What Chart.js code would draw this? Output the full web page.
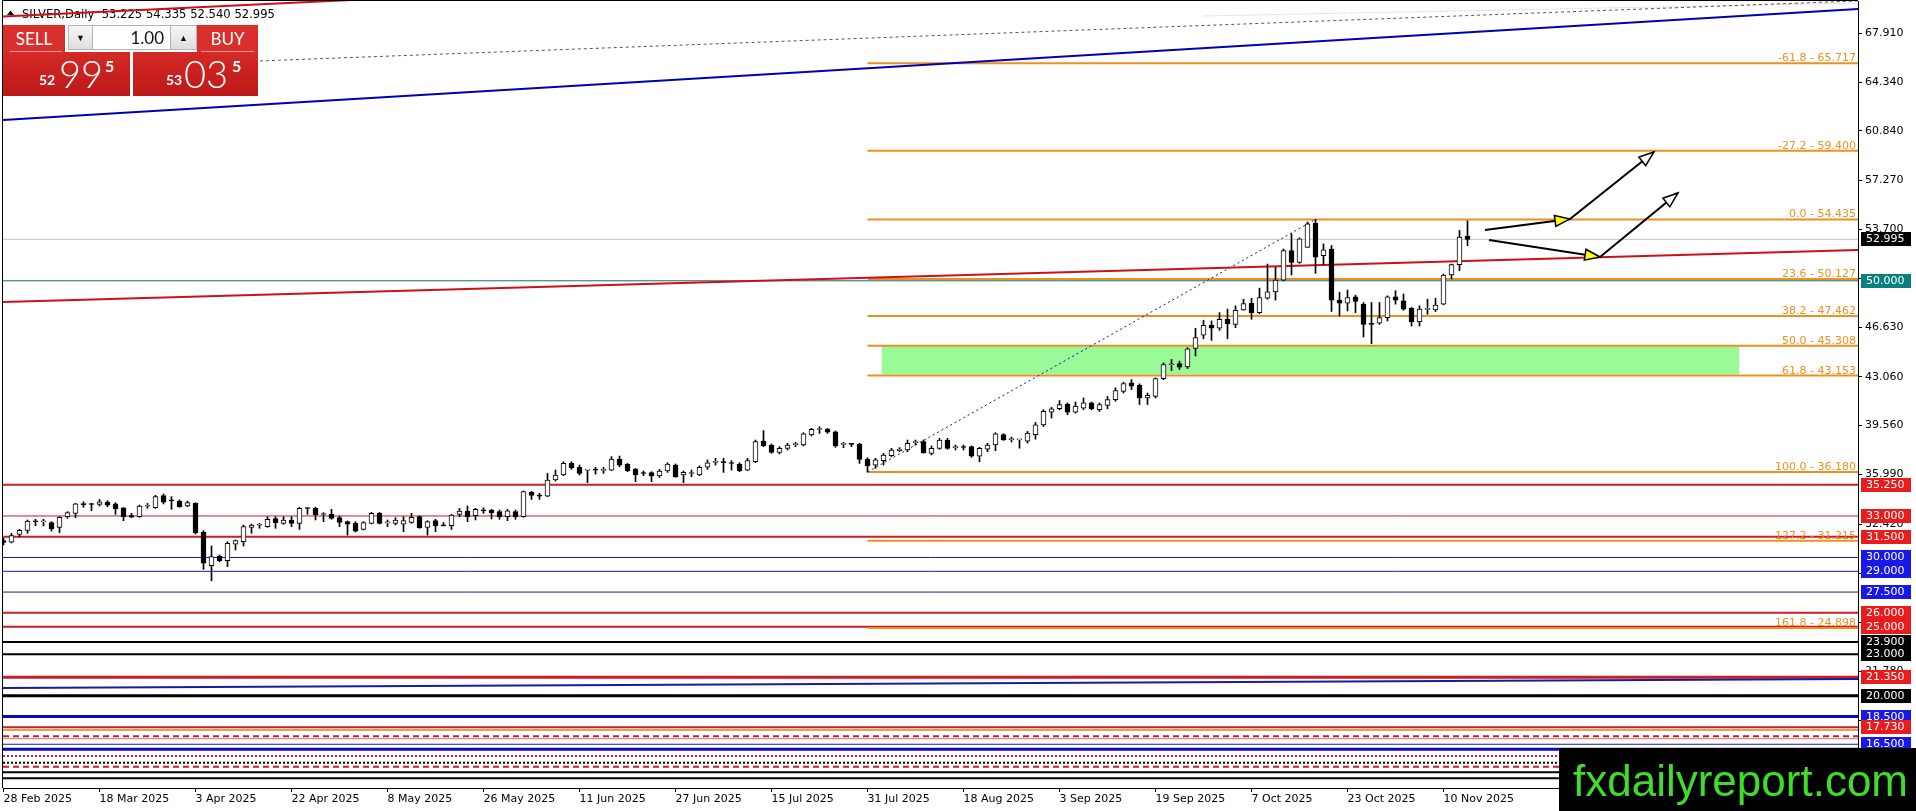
<!DOCTYPE html>
<html>
<head>
<meta charset="utf-8">
<title>SILVER Daily</title>
<script src="https://cdn.jsdelivr.net/npm/chart.js@4.4.1/dist/chart.umd.min.js"></script>
<style>
html,body{margin:0;padding:0;background:#fff;overflow:hidden;}
#wrap{position:relative;width:1916px;height:811px;}
#c{position:absolute;left:0;top:0;}
.pn{position:absolute;box-sizing:border-box;font-family:Lato,"Noto Sans",sans-serif;color:#fff;}
.btn{background:#d9302d;font-size:17px;text-align:center;line-height:27px;}
.uline{position:absolute;height:1px;background:#ee9a9a;}
.spin{background:linear-gradient(#f6f6f6,#dedede);border:1px solid #b4b4b4;color:#111;font-size:9px;text-align:center;line-height:23px;}
.lot{background:#fff;border:1px solid #b4b4b4;border-left:none;border-right:none;color:#111;font-size:17px;text-align:right;padding-right:6px;line-height:23px;}
.price{background:linear-gradient(#d52a27,#bd1818);}
.price span{position:absolute;white-space:nowrap;}
.sm{font-size:14px;font-weight:700;line-height:14px;top:21px;}
.bg{font-size:38px;font-weight:300;line-height:38px;top:2px;}
.sp{font-size:16px;font-weight:700;line-height:16px;top:6px;}
</style>
</head>
<body>
<div id="wrap">
<canvas id="c" width="1916" height="811"></canvas>
<div class="pn btn" style="left:3px;top:25px;width:62px;height:27px;">SELL</div>
<div class="uline" style="left:10px;top:51px;width:52px;"></div>
<div class="pn spin" style="left:68px;top:25px;width:25px;height:25px;">&#9660;</div>
<div class="pn lot" style="left:93px;top:25px;width:77px;height:25px;">1.00</div>
<div class="pn spin" style="left:170px;top:25px;width:27px;height:25px;">&#9650;</div>
<div class="pn btn" style="left:197px;top:25px;width:61px;height:27px;">BUY</div>
<div class="uline" style="left:201px;top:51px;width:53px;"></div>
<div class="pn price" style="left:3px;top:52px;width:127px;height:44px;">
  <span class="sm" style="left:36px;">52</span><span class="bg" style="left:56px;">99</span><span class="sp" style="left:102px;">5</span>
</div>
<div class="pn price" style="left:133px;top:52px;width:125px;height:44px;">
  <span class="sm" style="left:33px;">53</span><span class="bg" style="left:51px;">03</span><span class="sp" style="left:99px;">5</span>
</div>
</div>
<script>
// ---------------- DATA ----------------
const symbolName = "SILVER,Daily";
const dateLabels = ["28 Feb 2025","18 Mar 2025","3 Apr 2025","22 Apr 2025","8 May 2025","26 May 2025","11 Jun 2025","27 Jun 2025","15 Jul 2025","31 Jul 2025","18 Aug 2025","3 Sep 2025","19 Sep 2025","7 Oct 2025","23 Oct 2025","10 Nov 2025"];
const dateBarIndex = [0,12,24,36,48,60,72,84,96,108,120,132,144,156,168,180];

const opens = [
31.22,31.10,31.67,31.96,32.62,32.57,32.52,32.18,32.95,33.19,
33.86,33.84,33.84,34.01,33.87,33.58,33.02,32.95,33.70,33.60,
34.47,34.11,34.08,33.72,33.91,31.84,29.41,30.11,29.77,30.97,
31.14,32.18,32.33,32.23,32.81,32.47,32.71,32.47,33.56,33.55,
33.11,33.12,32.88,32.59,32.47,32.03,32.47,33.19,32.50,32.47,
32.40,32.54,32.95,32.18,32.66,32.31,32.30,33.12,33.36,33.02,
33.40,33.43,33.31,32.95,33.31,32.95,34.71,34.46,34.44,35.60,
35.96,36.80,36.52,36.31,36.33,36.30,36.32,37.12,36.73,36.39,
36.09,36.13,35.89,36.25,36.68,35.96,36.07,35.96,36.52,36.87,
36.89,36.82,36.76,36.32,36.92,38.42,38.13,37.60,37.89,38.16,
38.13,38.85,39.25,39.29,39.09,38.17,38.19,38.20,37.09,36.68,
37.00,37.36,37.72,37.77,38.30,38.37,37.53,37.89,38.49,37.94,
37.97,38.01,37.33,37.82,38.13,38.88,38.52,38.50,38.40,38.87,
39.59,40.51,40.75,41.09,40.51,40.80,41.17,40.68,41.00,41.41,
42.01,42.62,42.45,41.53,41.65,42.93,43.93,44.02,43.78,45.11,
46.06,46.78,46.57,47.22,46.85,47.90,48.38,47.70,48.74,49.20,
50.05,52.18,51.33,52.42,54.17,51.82,52.30,48.60,48.38,48.84,
48.31,46.93,46.93,47.34,48.84,48.55,48.02,47.05,47.93,47.90,
48.31,50.42,51.17,53.225];
const highs = [
31.38,31.75,32.03,32.71,32.76,32.76,32.59,32.95,33.31,33.91,
34.03,33.91,34.20,34.11,33.96,33.60,33.19,33.79,33.91,34.49,
34.59,34.40,34.16,34.08,33.96,31.94,30.83,30.18,31.14,31.26,
32.35,32.42,32.47,32.95,32.95,32.95,32.95,33.63,33.60,33.63,
33.24,33.48,33.00,32.64,32.59,32.59,33.26,33.26,32.71,32.88,
32.95,33.19,33.00,32.66,32.76,32.52,33.12,33.55,33.72,33.55,
33.60,33.48,33.43,33.48,33.43,34.81,34.78,34.64,36.08,36.32,
36.92,36.92,36.68,36.34,36.52,36.52,37.29,37.33,36.80,36.44,
36.25,36.20,36.37,36.85,36.76,36.25,36.32,36.61,37.05,37.17,
37.17,37.00,36.85,37.17,38.49,39.17,38.20,38.01,38.25,38.32,
39.02,39.33,39.45,39.33,39.14,38.32,38.25,38.25,37.21,37.17,
37.53,37.89,37.94,38.49,38.49,38.49,38.06,38.61,38.61,38.13,
38.13,38.06,37.96,38.25,39.02,38.95,38.70,38.52,39.11,39.76,
40.68,40.85,41.34,41.17,41.24,41.53,41.24,41.17,41.65,42.26,
42.67,42.86,42.55,41.89,42.98,44.07,44.31,44.19,45.16,46.57,
47.15,47.10,47.70,47.95,48.19,48.67,48.74,49.47,51.21,50.97,
52.30,53.39,53.10,54.24,54.435,52.67,52.55,49.16,49.33,48.96,
48.43,48.43,48.43,48.91,49.28,49.04,48.07,48.19,48.67,48.74,
50.49,51.21,53.64,54.335];
const lows = [
30.90,31.05,31.50,31.75,32.30,32.28,31.91,31.79,32.83,32.88,
33.63,33.38,33.72,33.67,33.12,32.66,32.88,32.90,33.55,33.55,
33.87,33.48,33.63,33.67,31.70,29.14,28.32,29.70,29.34,30.54,
30.83,31.75,32.11,32.18,32.11,32.40,32.23,32.03,33.12,32.71,
32.59,32.76,32.23,31.62,31.84,31.99,32.42,32.42,32.23,32.35,
31.87,32.47,32.11,31.62,31.87,32.28,32.03,32.95,32.59,32.71,
33.19,32.78,32.76,32.66,32.76,32.90,34.20,34.20,34.40,35.53,
35.91,36.37,35.96,35.41,36.03,36.08,36.27,36.56,36.20,35.48,
35.91,35.48,35.79,36.15,35.79,35.41,35.84,35.91,36.37,36.68,
36.15,36.32,36.20,36.27,36.85,38.01,37.53,37.48,37.77,38.01,
38.06,38.78,38.97,38.97,37.96,37.94,38.01,36.80,36.18,36.44,
36.68,37.29,37.65,37.65,38.13,37.53,37.41,37.82,37.82,37.77,
37.77,37.24,36.92,37.65,37.72,38.46,38.35,37.90,38.28,38.55,
39.47,40.08,40.68,40.32,40.44,40.68,40.68,40.56,40.75,41.29,
41.89,42.14,41.05,41.05,41.53,42.86,43.51,43.59,43.66,44.56,
45.81,45.69,46.42,45.81,46.61,47.87,47.22,47.63,48.67,48.60,
50.00,50.42,51.26,52.42,50.54,51.17,47.78,47.46,47.82,47.70,
45.94,45.45,46.85,47.10,48.31,47.87,46.73,46.73,47.58,47.78,
48.26,50.13,50.73,52.540];
const closes = [
31.08,31.58,31.96,32.64,32.57,32.61,32.06,32.90,33.24,33.87,
33.82,33.83,34.03,33.79,33.51,32.95,32.92,33.72,33.74,34.40,
33.99,34.09,33.67,33.96,31.79,29.58,30.06,29.77,31.02,31.22,
32.23,32.35,32.37,32.76,32.52,32.71,32.47,33.55,33.54,33.07,
33.13,32.83,32.54,32.40,31.91,32.52,33.19,32.47,32.54,32.71,
32.66,32.90,32.16,32.59,32.28,32.29,33.07,33.36,32.95,33.48,
33.37,33.24,32.95,33.38,32.95,34.76,34.49,34.44,35.60,35.96,
36.80,36.49,36.08,36.33,36.31,36.33,37.12,36.68,36.27,35.96,
36.07,35.89,36.25,36.76,35.84,36.15,36.09,36.52,36.85,36.89,
36.86,36.79,36.27,37.00,38.37,38.06,37.60,37.89,38.13,38.19,
38.93,39.26,39.27,39.05,38.06,38.19,38.17,37.09,36.61,37.05,
37.41,37.77,37.84,38.25,38.33,37.58,37.89,38.49,37.89,37.96,
37.95,37.33,37.89,38.13,38.93,38.50,38.54,38.52,38.99,39.59,
40.56,40.75,41.05,40.51,40.92,41.17,40.75,41.05,41.41,42.06,
42.57,42.38,41.53,41.72,42.93,43.95,43.97,43.76,45.09,45.89,
46.78,46.57,47.22,46.90,47.87,48.36,47.70,48.79,49.20,50.05,
52.18,51.33,53.03,54.12,51.70,52.23,48.60,48.38,48.79,48.50,
46.85,46.85,47.34,48.84,48.60,47.95,47.05,47.95,47.97,48.24,
50.42,51.17,53.15,52.995];

// price axis tick labels
const yTickValues = [67.91,64.34,60.84,57.27,53.70,50.13,46.63,43.06,39.56,35.99,32.42,28.85,25.28,21.78,18.21,14.64];

// horizontal support / resistance levels (full width)
const levelValues = [50.00,35.25,33.00,31.50,30.00,29.00,27.50,26.00,25.00,23.90,23.00,21.35,20.00,18.50,17.73,17.53,17.08,16.90,16.50,16.14,15.65,15.17,14.88,14.47,14.04];

// fibonacci levels
const fibRatios = ["-61.8","-27.2","0.0","23.6","38.2","50.0","61.8","100.0","127.2","161.8"];
const fibLevels = [65.717,59.400,54.435,50.127,47.462,45.308,43.153,36.180,31.215,24.898];
const fibStartBar = 108;
const fibAnchorBars = [108,164];
const fibAnchorPrices = [36.180,54.435];

// trend lines: [x0, y0, x1, y1] in bar index / price
const trendX0 = [-0.0625,-0.0625,-0.0625,32.06,150,-0.0625];
const trendY0 = [61.62,48.47,69.10,65.89,69.14,20.57];
const trendX1 = [231.8125,231.8125,60,231.8125,231.8125,231.8125];
const trendY1 = [69.645,52.225,70.75,70.23,70.08,21.22];

// demand zone
const zoneBars = [109.75,217];
const zonePrices = [43.25,45.30];

// arrows
const arrowX0 = [185.19,185.69,195.81,199.56];
const arrowY0 = [53.67,52.95,54.47,51.72];
const arrowX1 = [195.81,199.56,206.31,209.31];
const arrowY1 = [54.47,51.72,59.31,56.35];

// right-axis price markers
const markerValues = [52.995,50.000,35.250,33.000,31.500,30.000,29.000,27.500,26.000,25.000,23.900,23.000,21.350,20.000,18.500,17.730,16.500];
const markerKinds  = ["k","t","r","r","r","b","b","b","r","r","k","k","r","k","b","r","b"];

// ---------------- STYLES ----------------
const RED = "#c81e26", BLUE = "#1a1a96", BLUE2 = "#0a0ac4", ORANGE = "#ef8f1e";
const levelStyle = [
 ["#0f6f6a",1,[]],[RED,2,[]],[RED,1,[]],[RED,2,[]],[BLUE,1,[]],[BLUE,1,[]],[BLUE,1,[]],[RED,2,[]],[RED,2,[]],
 ["#000",2,[]],["#000",2,[]],[RED,3,[]],["#000",3,[]],[BLUE2,3,[]],[RED,2,[]],["#e2a24a",2,[]],[RED,2,[6,4]],
 ["#e07070",1,[]],[BLUE,1,[]],[BLUE2,3,[]],[RED,2,[2,2]],["#000",2,[2,2]],[RED,2,[6,4]],["#000",2,[]],["#000",2,[]]
];
const trendStyle = [["#0000b4",2,[]],["#cc1018",2,[]],["#cc1018",2,[]],["#555",1,[3,3]],["#b0b0b0",1,[1,2]],["#1a1aa0",2,[]]];
const markerColor = {k:"#000000",t:"#0a7f7f",r:"#e81c1c",b:"#1818e8"};

const N = opens.length;
const xMin = -0.0625, xMax = 231.8125;
const yMin = 13.338, yMax = 70.223;

const datasets = [];
// zone
datasets.push({type:'line',data:[{x:zoneBars[0],y:zonePrices[1]},{x:zoneBars[1],y:zonePrices[1]}],
  borderWidth:0,borderColor:'rgba(0,0,0,0)',backgroundColor:'#98fb98',fill:{value:zonePrices[0]},pointRadius:0,order:20});
// levels
levelValues.forEach((v,k)=>{
  const s = levelStyle[k];
  datasets.push({type:'line',data:[{x:xMin,y:v},{x:xMax,y:v}],borderColor:s[0],borderWidth:s[1],borderDash:s[2],
    pointRadius:0,fill:false,order:10});
});
// current price line
datasets.push({type:'line',data:[{x:xMin,y:closes[N-1]},{x:xMax,y:closes[N-1]}],borderColor:'#c4c4c4',borderWidth:1,pointRadius:0,fill:false,order:11});
// fib lines
fibLevels.forEach(v=>{
  datasets.push({type:'line',data:[{x:fibStartBar,y:v},{x:xMax,y:v}],borderColor:ORANGE,borderWidth:2,pointRadius:0,fill:false,order:9});
});
// fib anchor
datasets.push({type:'line',data:[{x:fibAnchorBars[0],y:fibAnchorPrices[0]},{x:fibAnchorBars[1],y:fibAnchorPrices[1]}],
  borderColor:'#1010a0',borderWidth:1,borderDash:[2,3],pointRadius:0,fill:false,order:8});
// trend lines
trendX0.forEach((x0,k)=>{
  const s = trendStyle[k];
  datasets.push({type:'line',data:[{x:x0,y:trendY0[k]},{x:trendX1[k],y:trendY1[k]}],borderColor:s[0],borderWidth:s[1],borderDash:s[2],
    pointRadius:0,fill:false,order:7});
});
// candles
const idx = opens.map((_,i)=>i);
datasets.push({type:'bar',data:idx.map(i=>({x:i,y:[lows[i],highs[i]]})),backgroundColor:'#000',borderWidth:0,
  barThickness:1,grouped:false,order:3});
datasets.push({type:'bar',data:idx.map(i=>({x:i,y:[Math.min(opens[i],closes[i]),Math.max(opens[i],closes[i])]})),
  backgroundColor:idx.map(i=>closes[i]>=opens[i]?'#ffffff':'#000000'),borderColor:'#000',borderWidth:1,borderSkipped:false,
  barThickness:5,minBarLength:1,grouped:false,order:2});
// arrows
arrowX0.forEach((x0,k)=>{
  datasets.push({type:'line',data:[{x:x0,y:arrowY0[k]},{x:arrowX1[k],y:arrowY1[k]}],borderColor:'#000',borderWidth:2,pointRadius:0,fill:false,order:1});
});

const overlay = {
  id:'overlay',
  beforeDatasetsDraw(chart){
    const ctx = chart.ctx;
    ctx.save();
    ctx.fillStyle = '#000';
    ctx.beginPath(); ctx.moveTo(7,15); ctx.lineTo(14,15); ctx.lineTo(10.5,10.5); ctx.closePath(); ctx.fill();
    ctx.font = '11.6px "DejaVu Sans"';
    ctx.textBaseline = 'alphabetic';
    const t = symbolName + "  " + [opens[N-1],highs[N-1],lows[N-1],closes[N-1]].map(v=>v.toFixed(3)).join(" ");
    ctx.fillText(t,22,17.5);
    ctx.restore();
  },
  afterDatasetsDraw(chart){
    const {ctx, chartArea:a, scales:{x,y}} = chart;
    ctx.save();
    // frame
    ctx.fillStyle = '#000';
    ctx.fillRect(a.left-1, a.top-1, 1, a.bottom-a.top+1);
    ctx.fillRect(a.left-1, a.top-1, a.right-a.left+1, 1);
    // fib labels
    ctx.font = '11px "DejaVu Sans"';
    ctx.fillStyle = ORANGE;
    ctx.textAlign = 'right';
    ctx.textBaseline = 'alphabetic';
    fibLevels.forEach((v,k)=>{
      const py = y.getPixelForValue(v);
      ctx.fillText(fibRatios[k] + " - " + v.toFixed(3), a.right-2, py-2);
    });
    // arrow heads
    arrowX0.forEach((x0,k)=>{
      const px0 = x.getPixelForValue(x0), py0 = y.getPixelForValue(arrowY0[k]);
      const px1 = x.getPixelForValue(arrowX1[k]), py1 = y.getPixelForValue(arrowY1[k]);
      const dx = px1-px0, dy = py1-py0, L = Math.hypot(dx,dy), ux = dx/L, uy = dy/L;
      const len = 15, hw = 5.5;
      const bx = px1-ux*len, by = py1-uy*len;
      ctx.beginPath();
      ctx.moveTo(px1,py1);
      ctx.lineTo(bx-uy*hw, by+ux*hw);
      ctx.lineTo(bx+uy*hw, by-ux*hw);
      ctx.closePath();
      ctx.fillStyle = k<2 ? '#ffff00' : '#ffffff';
      ctx.fill();
      ctx.strokeStyle = '#000';
      ctx.lineWidth = 1.5;
      ctx.stroke();
    });
    // axis markers
    ctx.textAlign = 'left';
    ctx.textBaseline = 'middle';
    ctx.font = '11px "DejaVu Sans"';
    markerValues.forEach((v,k)=>{
      const py = Math.round(y.getPixelForValue(v));
      ctx.fillStyle = markerColor[markerKinds[k]];
      ctx.fillRect(a.right+3, py-7, 50, 14);
      ctx.fillStyle = '#fff';
      ctx.fillText(v.toFixed(3), a.right+8, py+0.5);
    });
    ctx.restore();
  },
  afterDraw(chart){
    const ctx = chart.ctx;
    ctx.save();
    ctx.fillStyle = '#000';
    ctx.fillRect(1559,748,357,63);
    ctx.fillStyle = '#3fdc2a';
    ctx.font = '44px "Liberation Sans"';
    ctx.textBaseline = 'alphabetic';
    ctx.textAlign = 'left';
    ctx.fillText('fxdailyreport.com',1573,796);
    ctx.restore();
  }
};

new Chart(document.getElementById('c'), {
  type:'bar',
  data:{datasets},
  options:{
    responsive:false, animation:false, devicePixelRatio:1, events:[],
    layout:{padding:{left:3,top:1,right:0,bottom:0}},
    plugins:{legend:{display:false},tooltip:{enabled:false}},
    scales:{
      x:{type:'linear',position:'bottom',min:xMin,max:xMax,offset:false,
        grid:{display:true,drawOnChartArea:false,drawTicks:true,tickLength:4,color:'#000',offset:false},
        border:{display:true,color:'#000',width:1},
        afterBuildTicks:(s)=>{s.ticks = dateBarIndex.map(v=>({value:v}));},
        afterFit:(s)=>{s.height = 23; s.paddingLeft = 0; s.paddingRight = 0;},
        ticks:{autoSkip:false,maxRotation:0,minRotation:0,align:'start',padding:1,color:'#000',
          font:{family:'DejaVu Sans',size:11},
          callback:(v)=>{const k = dateBarIndex.indexOf(v); return k>=0?dateLabels[k]:'';}}
      },
      y:{type:'linear',position:'right',min:yMin,max:yMax,
        grid:{display:true,drawOnChartArea:false,drawTicks:true,tickLength:4,color:'#000'},
        border:{display:true,color:'#000',width:1},
        afterBuildTicks:(s)=>{s.ticks = yTickValues.map(v=>({value:v}));},
        afterFit:(s)=>{s.width = 58; s.paddingTop = 0; s.paddingBottom = 0;},
        ticks:{autoSkip:false,padding:3,color:'#000',font:{family:'DejaVu Sans',size:11},
          callback:(v)=>Number(v).toFixed(3)}
      }
    }
  },
  plugins:[overlay]
});
</script>
</body>
</html>
